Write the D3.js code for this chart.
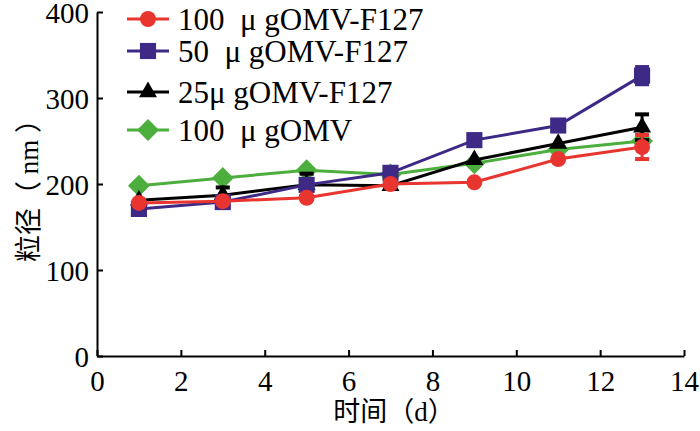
<!DOCTYPE html>
<html lang="zh">
<head>
  <meta charset="utf-8">
  <title>粒径 vs 时间</title>
  <script src="https://cdn.jsdelivr.net/npm/d3@7/dist/d3.min.js"></script>
  <style>
    body { margin: 0; background: #fff; }
  </style>
</head>
<body>
  <svg class="chart" width="700" height="431"></svg>
  <script>
    var width = 700, height = 431;
    var font = "Liberation Serif, Noto Sans CJK SC";

    // data
    var days = [1, 3, 5, 7, 9, 11, 13];
    var omvF127_100 = [178, 180, 184, 200, 202, 229, 243];
    var omvF127_50  = [171, 179, 199, 213, 251, 268, 326];
    var omvF127_25  = [181, 187, 199, 198, 228, 247, 266];
    var omv_100     = [198, 207, 216, 211, 224, 240, 250];
    var err_100     = [0, 0, 0, 0, 0, 0, 14];
    var err_50      = [0, 0, 0, 0, 0, 0, 10];
    var err_25      = [0, 9, 13, 0, 0, 0, 15];
    var err_omv     = [0, 0, 0, 0, 0, 0, 0];
    var xTicks = [0, 2, 4, 6, 8, 10, 12, 14];
    var yTicks = [0, 100, 200, 300, 400];
    var legendLabels = ["100  \u03bc gOMV-F127", "50  \u03bc gOMV-F127", "25\u03bc gOMV-F127", "100  \u03bc gOMV"];

    var series = [
      { name: legendLabels[0], values: omvF127_100, err: err_100, color: "#e8352f", shape: d3.symbolCircle, size: 200, rot: 0 },
      { name: legendLabels[1], values: omvF127_50,  err: err_50,  color: "#3e2a86", shape: d3.symbolSquare, size: 260, rot: 0 },
      { name: legendLabels[2], values: omvF127_25,  err: err_25,  color: "#000000", shape: d3.symbolTriangle, size: 140, rot: 0 },
      { name: legendLabels[3], values: omv_100,     err: err_omv, color: "#4cae3c", shape: d3.symbolSquare, size: 240, rot: 45 }
    ];

    var x = d3.scaleLinear().domain([0, 14]).range([97, 684]);
    var y = d3.scaleLinear().domain([0, 400]).range([356, 12]);

    var svg = d3.select("svg.chart");

    // axes
    var xAxis = svg.append("g")
       .attr("transform", "translate(0," + y(0) + ")")
       .call(d3.axisBottom(x).tickValues(xTicks).tickSizeInner(-6).tickSizeOuter(0).tickPadding(14));
    var yAxis = svg.append("g")
       .attr("transform", "translate(" + x(0) + ",0)")
       .call(d3.axisLeft(y).tickValues(yTicks).tickSizeInner(-6).tickSizeOuter(0).tickPadding(8));

    [xAxis, yAxis].forEach(function(a) {
      a.attr("font-family", font);
      a.selectAll("path, line").attr("stroke", "#000").attr("stroke-width", 2);
      a.selectAll("text").attr("font-size", 29).attr("fill", "#000");
    });
    xAxis.selectAll("text").attr("dy", "0.71em");
    yAxis.selectAll("text").attr("dy", "0.35em");

    // axis titles
    svg.append("text")
       .attr("x", 394).attr("y", 421)
       .attr("text-anchor", "middle")
       .attr("font-size", 27)
       .attr("font-family", font)
       .text("时间（d）");

    svg.append("text")
       .attr("transform", "translate(38,184) rotate(-90)")
       .attr("text-anchor", "middle")
       .attr("font-size", 27)
       .attr("font-family", font)
       .text("粒径（ nm ）");

    var line = d3.line()
                 .x(function(d) { return x(d.day); })
                 .y(function(d) { return y(d.v); });

    // draw bottom to top: green, black, blue, red
    var order = [3, 2, 1, 0];
    order.forEach(function(i) {
      var s = series[i];
      var pts = days.map(function(d, j) { return { day: d, v: s.values[j], e: s.err[j] }; });
      var g = svg.append("g");

      g.append("path")
       .datum(pts)
       .attr("d", line)
       .attr("fill", "none")
       .attr("stroke", s.color)
       .attr("stroke-width", 3);

      var eb = g.selectAll(".eb").data(pts.filter(function(p) { return p.e > 0; })).enter().append("g");
      eb.append("line")
        .attr("x1", function(p) { return x(p.day); }).attr("x2", function(p) { return x(p.day); })
        .attr("y1", function(p) { return y(p.v - p.e); }).attr("y2", function(p) { return y(p.v + p.e); })
        .attr("stroke", s.color).attr("stroke-width", 3);
      [-1, 1].forEach(function(sign) {
        eb.append("line")
          .attr("x1", function(p) { return x(p.day) - 7; }).attr("x2", function(p) { return x(p.day) + 7; })
          .attr("y1", function(p) { return y(p.v + sign * p.e); }).attr("y2", function(p) { return y(p.v + sign * p.e); })
          .attr("stroke", s.color).attr("stroke-width", 4);
      });

      g.selectAll(".pt").data(pts).enter().append("path")
       .attr("transform", function(p) { return "translate(" + x(p.day) + "," + y(p.v) + ") rotate(" + s.rot + ")"; })
       .attr("d", d3.symbol().type(s.shape).size(s.size))
       .attr("fill", s.color);
    });

    // legend
    var legendY = [19, 51, 92, 130];
    series.forEach(function(s, i) {
      var lg = svg.append("g").attr("transform", "translate(0," + legendY[i] + ")");
      lg.append("line")
        .attr("x1", 127).attr("x2", 169).attr("y1", 0).attr("y2", 0)
        .attr("stroke", s.color).attr("stroke-width", 3);
      lg.append("path")
        .attr("transform", "translate(148,0) rotate(" + s.rot + ")")
        .attr("d", d3.symbol().type(s.shape).size(s.size))
        .attr("fill", s.color);
      lg.append("text")
        .attr("x", 178).attr("y", 0).attr("dy", "0.35em")
        .attr("font-size", 31)
        .attr("font-family", font)
        .attr("xml:space", "preserve")
        .text(s.name);
    });
  </script>
</body>
</html>
